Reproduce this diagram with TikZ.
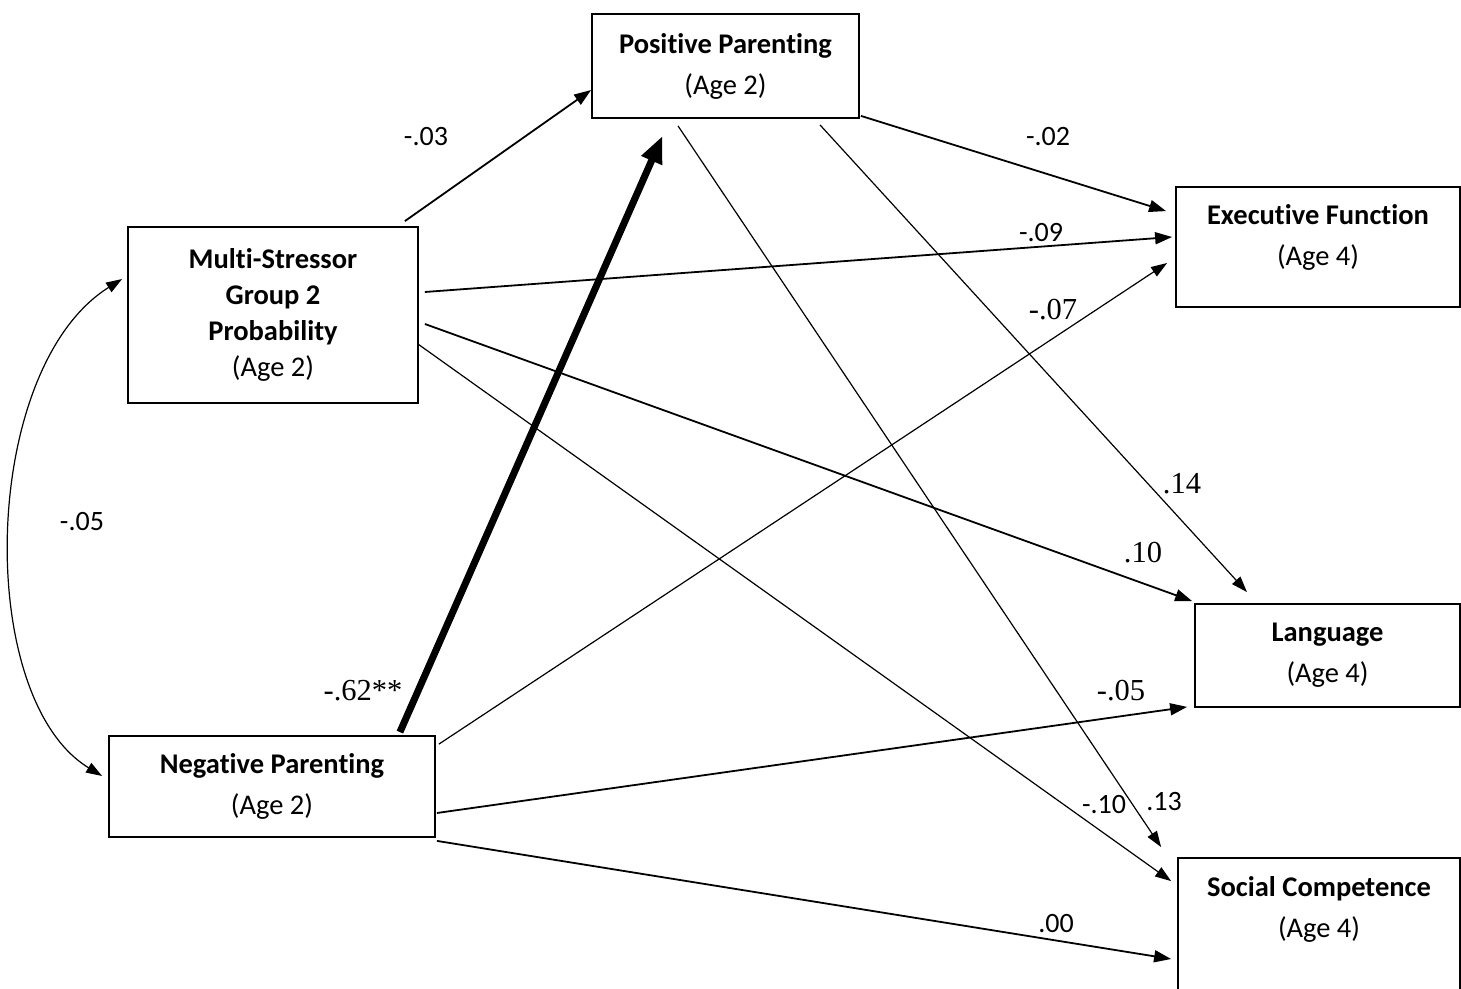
\documentclass[tikz,border=0pt]{standalone}
\usepackage{fontspec}
\setmainfont{Carlito}[Ligatures=NoCommon]
\newfontfamily\timesnum{Liberation Serif}
\usetikzlibrary{arrows.meta}

\begin{document}
\begin{tikzpicture}[x=1pt, y=1pt,
    box/.style={draw, line width=1.8pt, align=center, inner sep=0pt,
      font=\fontsize{28.5}{41}\selectfont},
    link/.style={line width=1.8pt, -{Triangle[length=17pt,width=12pt]}},
    faint/.style={line width=1.2pt, -{Triangle[length=16pt,width=11pt]}},
    strong/.style={line width=7pt, -{Triangle[length=27pt,width=21pt]}},
    twoway/.style={line width=1.2pt, {Triangle[length=16pt,width=11pt]}-{Triangle[length=16pt,width=11pt]}},
    coef/.style={inner sep=0pt, font=\fontsize{28}{34}\selectfont},
    coefserif/.style={inner sep=0pt, font=\timesnum\fontsize{30.5}{36}\selectfont}]

  \useasboundingbox (0,0) rectangle (1461,988);

  % Nodes
  \node[box, minimum width=267pt, minimum height=104pt] (pos) at (725.5,922) {\textbf{Positive Parenting}\\(Age 2)};
  \node[box, minimum width=290pt, minimum height=176pt, font=\fontsize{28.5}{36}\selectfont] (ms) at (273,673)
    {\textbf{Multi-Stressor}\\\textbf{Group 2}\\\textbf{Probability}\\(Age 2)};
  \node[box, minimum width=326pt, minimum height=101pt] (neg) at (272,201.5) {\textbf{Negative Parenting}\\(Age 2)};
  \node[box, minimum width=284pt, minimum height=120pt] (ef) at (1318,741) {\textbf{Executive Function}\\(Age 4)\\[-17pt]\mbox{}};
  \node[box, minimum width=265pt, minimum height=103pt] (lang) at (1327.5,332.5) {\textbf{Language}\\(Age 4)};
  \node[box, minimum width=282pt, minimum height=150pt] (sc) at (1319,55) {\textbf{Social Competence}\\(Age 4)\\[11.5pt]\mbox{}};

  % Paths
  \draw[link] ([shift={(-14,5)}]ms.north east) -- ([yshift=-24pt]pos.west);
  \draw[strong] ([shift={(-36,3)}]neg.north east) -- ([shift={(-63,-17)}]pos.south);
  \draw[link] ([shift={(1,3)}]pos.south east) -- ([shift={(-9,-25)}]ef.north west);
  \draw[link] ([shift={(6,23)}]ms.east) -- ([shift={(-3,10)}]ef.west);
  \draw[faint] ([shift={(3,-9)}]neg.north east) -- ([shift={(-8,-16)}]ef.west);
  \draw[faint] ([shift={(94.5,-6)}]pos.south) -- ([shift={(-80.5,11)}]lang.north);
  \draw[link] ([shift={(6,-9)}]ms.east) -- ([shift={(-2,2)}]lang.north west);
  \draw[link] ([shift={(1,-26.5)}]neg.east) -- ([shift={(-7,1)}]lang.south west);
  \draw[faint] ([shift={(-47.5,-7)}]pos.south) -- ([shift={(-16,10)}]sc.north west);
  \draw[faint] ([shift={(-1,-29)}]ms.east) -- ([shift={(-6,-24)}]sc.north west);
  \draw[link] ([shift={(1,-3)}]neg.south east) -- ([shift={(-6,-26)}]sc.west);
  \draw[twoway] ([shift={(-5,36)}]ms.west) .. controls (-20,620) and (-26,290) .. ([shift={(-6,10.5)}]neg.west);

  % Coefficients
  \node[coef] (c1) at (426,851) {-.03};
  \node[coef] (c2) at (1048,851) {-.02};
  \node[coef] (c3) at (1041,755) {-.09};
  \node[coefserif] (c4) at (1053,678) {-.07};
  \node[coefserif] (c5) at (1182,504) {.14};
  \node[coefserif] (c6) at (1143,435) {.10};
  \node[coefserif] (c7) at (1121,297) {-.05};
  \node[coef] (c8) at (1104,183) {-.10};
  \node[coef] (c9) at (1164,186) {.13};
  \node[coef] (c10) at (1056,64) {.00};
  \node[coef] (c11) at (82,466) {-.05};
  \node[coefserif] (c12) at (363,297) {-.62**};
\end{tikzpicture}
\end{document}
